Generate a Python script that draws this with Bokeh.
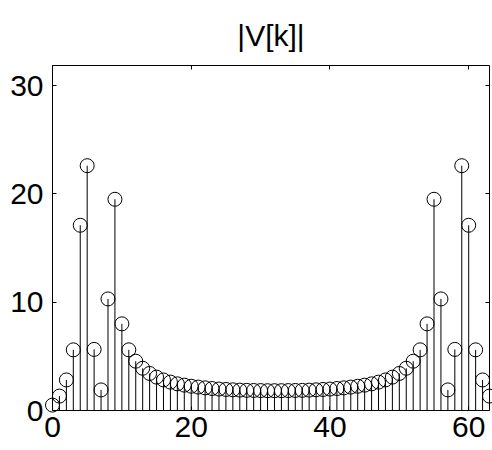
from bokeh.plotting import figure
from bokeh.models import LinearAxis, FixedTicker, Range1d
from bokeh.embed import file_html
from bokeh.resources import INLINE

k = list(range(64))
mag = [0.5, 1.33, 2.82, 5.6, 17.1, 22.6, 5.64, 1.9, 10.3, 19.5, 8.0, 5.6,
       4.55, 3.9, 3.42, 3.08, 2.82, 2.62, 2.46, 2.34, 2.24, 2.16, 2.09, 2.03,
       1.98, 1.94, 1.91, 1.88, 1.86, 1.85, 1.84, 1.83, 1.83,
       1.83, 1.84, 1.85, 1.86, 1.88, 1.91, 1.94, 1.98, 2.03, 2.09, 2.16,
       2.24, 2.34, 2.46, 2.62, 2.82, 3.08, 3.42, 3.9, 4.55, 5.6, 8.0, 19.5,
       10.3, 1.9, 5.64, 22.6, 17.1, 5.6, 2.82, 1.33]
x_ticks = [0, 20, 40, 60]
y_ticks = [0, 10, 20, 30]
title_text = "|V[k]|"

FONT = "Liberation Sans"

p = figure(width=492, height=450, output_backend="svg", toolbar_location=None,
           x_range=Range1d(0, 63), y_range=Range1d(0, 31.85),
           min_border_left=52, min_border_right=3, min_border_top=65,
           min_border_bottom=40, x_axis_location=None, y_axis_location=None)
p.title.text = title_text
p.title.text_font = FONT
p.title.text_font_size = "30px"
p.title.text_font_style = "normal"
p.title.align = "center"
p.title.text_color = "black"
p.title.standoff = 27

p.grid.visible = False
p.outline_line_color = "black"
p.outline_line_width = 1
p.background_fill_color = "white"
p.border_fill_color = "white"

def mk_axis(show_labels, ticks, standoff):
    ax = LinearAxis(ticker=FixedTicker(ticks=ticks))
    ax.axis_line_color = None
    ax.major_tick_in = 4
    ax.major_tick_out = 0
    ax.minor_tick_line_color = None
    ax.major_tick_line_color = "black"
    ax.major_label_text_font = FONT
    ax.major_label_text_color = "black"
    if show_labels:
        ax.major_label_text_font_size = "30px"
        ax.major_label_standoff = standoff
    else:
        ax.major_label_text_font_size = "0px"
        ax.major_label_standoff = 0
    return ax

p.add_layout(mk_axis(True, x_ticks, 6), "below")
p.add_layout(mk_axis(True, y_ticks, 9), "left")
p.add_layout(mk_axis(False, x_ticks, 0), "above")
p.add_layout(mk_axis(False, y_ticks, 0), "right")

zeros = [0] * len(k)
p.segment(x0=k, y0=zeros, x1=k, y1=mag, line_color="black", line_width=1)
p.scatter(x=k, y=mag, marker="circle", size=14, fill_color=None,
          line_color="black", line_width=1, level="overlay")

open("out.html", "w").write(file_html(p, INLINE))
